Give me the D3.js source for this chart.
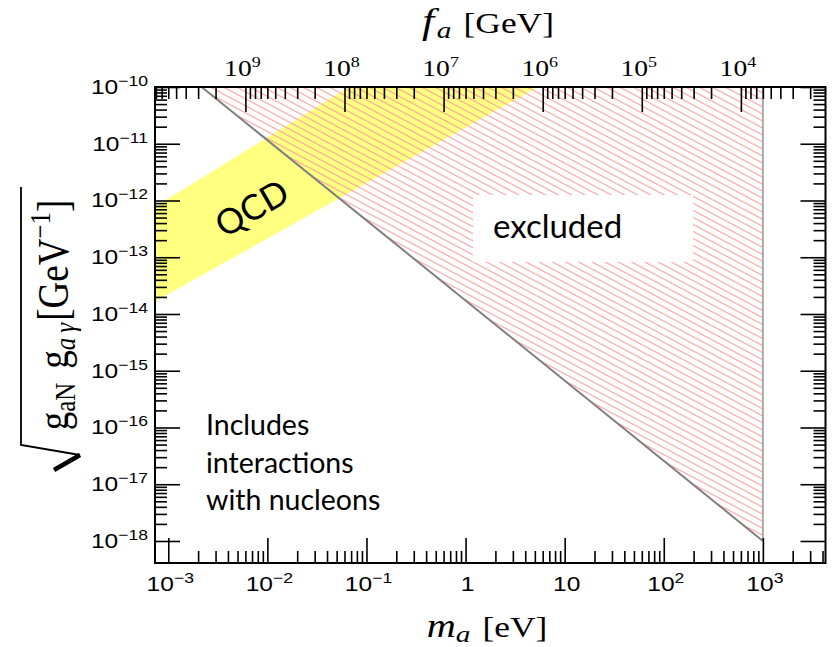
<!DOCTYPE html>
<html>
<head>
<meta charset="utf-8">
<script src="https://cdn.jsdelivr.net/npm/d3@7"></script>
<style>
  body { margin: 0; background: #fff; }
  svg { display: block; }
</style>
</head>
<body>
<div id="chart"></div>
<script>
// Data
// bottom axis: axion mass m_a [eV]
var massTicks = [1e-3, 1e-2, 1e-1, 1, 10, 100, 1000];
var massLabels = [["10", "\u22123"], ["10", "\u22122"], ["10", "\u22121"], ["1", ""], ["10", ""], ["10", "2"], ["10", "3"]];
// left axis: sqrt(g_aN g_ag) [GeV^-1]
var couplingTicks = [1e-10, 1e-11, 1e-12, 1e-13, 1e-14, 1e-15, 1e-16, 1e-17, 1e-18];
var couplingLabels = ["\u221210", "\u221211", "\u221212", "\u221213", "\u221214", "\u221215", "\u221216", "\u221217", "\u221218"];
// top axis: f_a [GeV]
var faTicks = [1e9, 1e8, 1e7, 1e6, 1e5, 1e4];
var faLabels = ["9", "8", "7", "6", "5", "4"];
var faConst = 6e6; // m_a[eV] * f_a[GeV]

// QCD band edges, [m_a, coupling]
var qcdUpper = [[7.3e-4, 7.67e-13], [0.0665, 1e-10]];
var qcdLower = [[7.3e-4, 1.65e-14], [5.4, 1e-10]];
// excluded region and its bounding lines
var excludedRegion = [[2.17e-3, 1e-10], [1e3, 1e-18], [1e3, 1e-10]];
var boundLine = [[2.17e-3, 1e-10], [1e3, 1e-18]];
var massCut = [[1e3, 1e-10], [1e3, 1e-18]];

var svgWidth = 832;
var svgHeight = 647;
var plot = {left: 155, top: 87, right: 825.5, bottom: 563};

var svg = d3.select("#chart")
  .append("svg")
  .attr("width", svgWidth)
  .attr("height", svgHeight);

// scales
var x = d3.scaleLog().domain([Math.pow(10, -3.134), Math.pow(10, 3.632)]).range([plot.left, plot.right]);
var y = d3.scaleLog().domain([1e-10, Math.pow(10, -18.388)]).range([plot.top, plot.bottom]);
var xf = d3.scaleLog().domain([faConst / x.domain()[0], faConst / x.domain()[1]]).range([plot.left, plot.right]);

var defs = svg.append("defs");
defs.append("clipPath").attr("id", "clip")
  .append("rect")
  .attr("x", plot.left).attr("y", plot.top)
  .attr("width", plot.right - plot.left).attr("height", plot.bottom - plot.top);

var hatch = defs.append("pattern")
  .attr("id", "hatch")
  .attr("patternUnits", "userSpaceOnUse")
  .attr("width", 12).attr("height", 6.2)
  .attr("patternTransform", "rotate(28)");
hatch.append("line")
  .attr("x1", 0).attr("x2", 12).attr("y1", 3).attr("y2", 3)
  .attr("stroke", "#f9a0a0").attr("stroke-width", 1.1);

var area = svg.append("g").attr("clip-path", "url(#clip)");

// QCD band
var band = qcdUpper.concat(qcdLower.slice().reverse());
area.append("polygon")
  .attr("points", band.map(function(d) { return x(d[0]) + "," + y(d[1]); }).join(" "))
  .attr("fill", "#ffff80");

// excluded (hatched)
area.append("polygon")
  .attr("points", excludedRegion.map(function(d) { return x(d[0]) + "," + y(d[1]); }).join(" "))
  .attr("fill", "url(#hatch)");

var line = d3.line().x(function(d) { return x(d[0]); }).y(function(d) { return y(d[1]); });
area.append("path").attr("d", line(massCut))
  .attr("fill", "none").attr("stroke", "#aaa").attr("stroke-width", 2);
area.append("path").attr("d", line(boundLine))
  .attr("fill", "none").attr("stroke", "#808080").attr("stroke-width", 2);

// annotations
svg.append("rect")
  .attr("x", 473).attr("y", 195).attr("width", 220).attr("height", 67)
  .attr("fill", "#fff");
svg.append("text")
  .attr("x", 493).attr("y", 238)
  .style("font-family", "Lato").style("font-size", "33px")
  .text("excluded");

svg.append("text")
  .attr("transform", "translate(258,219) rotate(-30)")
  .attr("text-anchor", "middle")
  .style("font-family", "Lato").style("font-size", "35px")
  .text("QCD");

var notes = ["Includes", "interactions", "with nucleons"];
svg.append("g").selectAll("text")
  .data(notes).enter().append("text")
  .attr("x", 206)
  .attr("y", function(d, i) { return 435 + i * 37.5; })
  .style("font-family", "Lato").style("font-size", "28.5px")
  .text(function(d) { return d; });

// tick values
var minorMass = [];
var minorCoupling = [];
var minorFa = [];
for (var e = -3; e <= 3; e++) {
  for (var k = 2; k <= 9; k++) {
    var v = k * Math.pow(10, e);
    if (v < x.domain()[1]) minorMass.push(v);
  }
}
for (var e = -18; e <= -11; e++) {
  for (var k = 2; k <= 9; k++) minorCoupling.push(k * Math.pow(10, e));
}
for (var e = 3; e <= 9; e++) {
  for (var k = 2; k <= 9; k++) {
    var v = k * Math.pow(10, e);
    if (v < xf.domain()[0] && v > xf.domain()[1]) minorFa.push(v);
  }
}

function drawTicks(axis, transform, values, size) {
  var g = svg.append("g")
    .attr("transform", transform)
    .call(axis.tickValues(values).tickSize(-size).tickFormat(""));
  g.select(".domain").remove();
  g.selectAll("line").attr("stroke", "#000").attr("stroke-width", 1.6);
}

drawTicks(d3.axisBottom(x), "translate(0," + plot.bottom + ")", minorMass, 12);
drawTicks(d3.axisBottom(x), "translate(0," + plot.bottom + ")", massTicks, 25);
drawTicks(d3.axisTop(xf), "translate(0," + plot.top + ")", minorFa, 12);
drawTicks(d3.axisTop(xf), "translate(0," + plot.top + ")", faTicks, 25);
drawTicks(d3.axisLeft(y), "translate(" + plot.left + ",0)", minorCoupling, 12);
drawTicks(d3.axisLeft(y), "translate(" + plot.left + ",0)", couplingTicks, 25);
drawTicks(d3.axisRight(y), "translate(" + plot.right + ",0)", minorCoupling, 12);
drawTicks(d3.axisRight(y), "translate(" + plot.right + ",0)", couplingTicks, 25);

// frame
svg.append("rect")
  .attr("x", plot.left).attr("y", plot.top)
  .attr("width", plot.right - plot.left).attr("height", plot.bottom - plot.top)
  .attr("fill", "none").attr("stroke", "#000").attr("stroke-width", 2);

// tick labels
function powerLabel(g, base, exp, font, size, supSize, rise) {
  var t = g.append("text").style("font-family", font).style("font-size", size + "px");
  t.append("tspan").text(base);
  if (exp) t.append("tspan").attr("dy", -rise).style("font-size", supSize + "px").text(exp);
  return t;
}

couplingTicks.forEach(function(v, i) {
  var g = svg.append("g").attr("transform", "translate(148," + (y(v) + 7) + ") scale(1.17,1)");
  powerLabel(g, "10", couplingLabels[i], "Liberation Sans", 21, 15, 8).attr("text-anchor", "end");
});

massTicks.forEach(function(v, i) {
  var g = svg.append("g").attr("transform", "translate(" + (x(v) + 2) + ",591) scale(1.17,1)");
  powerLabel(g, massLabels[i][0], massLabels[i][1], "Liberation Sans", 21, 15, 8).attr("text-anchor", "middle");
});

faTicks.forEach(function(v, i) {
  var g = svg.append("g").attr("transform", "translate(" + (xf(v) - 3) + ",76) scale(1.2,1)");
  powerLabel(g, "10", faLabels[i], "Liberation Serif", 23, 15, 9).attr("text-anchor", "middle");
});

// axis titles
var topTitle = svg.append("text")
  .attr("transform", "translate(488,33) scale(1.22,1)")
  .attr("text-anchor", "middle")
  .style("font-family", "Liberation Serif").style("font-size", "29px");
topTitle.append("tspan").style("font-style", "italic").style("font-size", "36px").text("f");
topTitle.append("tspan").attr("dy", 5).attr("dx", 2).style("font-style", "italic").style("font-size", "24px").text("a");
topTitle.append("tspan").attr("dy", -5).attr("dx", 10).text("[GeV]");

var bottomTitle = svg.append("text")
  .attr("transform", "translate(487,637) scale(1.22,1)")
  .attr("text-anchor", "middle")
  .style("font-family", "Liberation Serif").style("font-size", "29px");
bottomTitle.append("tspan").style("font-style", "italic").style("font-size", "33px").text("m");
bottomTitle.append("tspan").attr("dy", 5).style("font-style", "italic").style("font-size", "24px").text("a");
bottomTitle.append("tspan").attr("dy", -5).attr("dx", 10).text("[eV]");

// y title with radical sign
var yTitle = svg.append("text")
  .attr("transform", "translate(68,315) rotate(-90) scale(1,1.2)")
  .attr("text-anchor", "middle")
  .style("font-family", "Liberation Serif").style("font-size", "37px");
yTitle.append("tspan").text("g");
yTitle.append("tspan").attr("dy", 6).style("font-size", "25px").text("aN");
yTitle.append("tspan").attr("dy", -6).attr("dx", 14).text("g");
yTitle.append("tspan").attr("dy", 6).style("font-size", "25px").style("font-style", "italic").text("a\u2009\u03b3");
yTitle.append("tspan").attr("dy", -6).attr("dx", 2).text("[GeV");
yTitle.append("tspan").attr("dy", -15).style("font-size", "25px").text("\u22121");
yTitle.append("tspan").attr("dy", 15).text("]");

svg.append("path")
  .attr("d", "M21,187 V445 L80,455")
  .attr("fill", "none").attr("stroke", "#000").attr("stroke-width", 1.8);
svg.append("path")
  .attr("d", "M80,455 L54,470")
  .attr("fill", "none").attr("stroke", "#000").attr("stroke-width", 4.5);
</script>
</body>
</html>
